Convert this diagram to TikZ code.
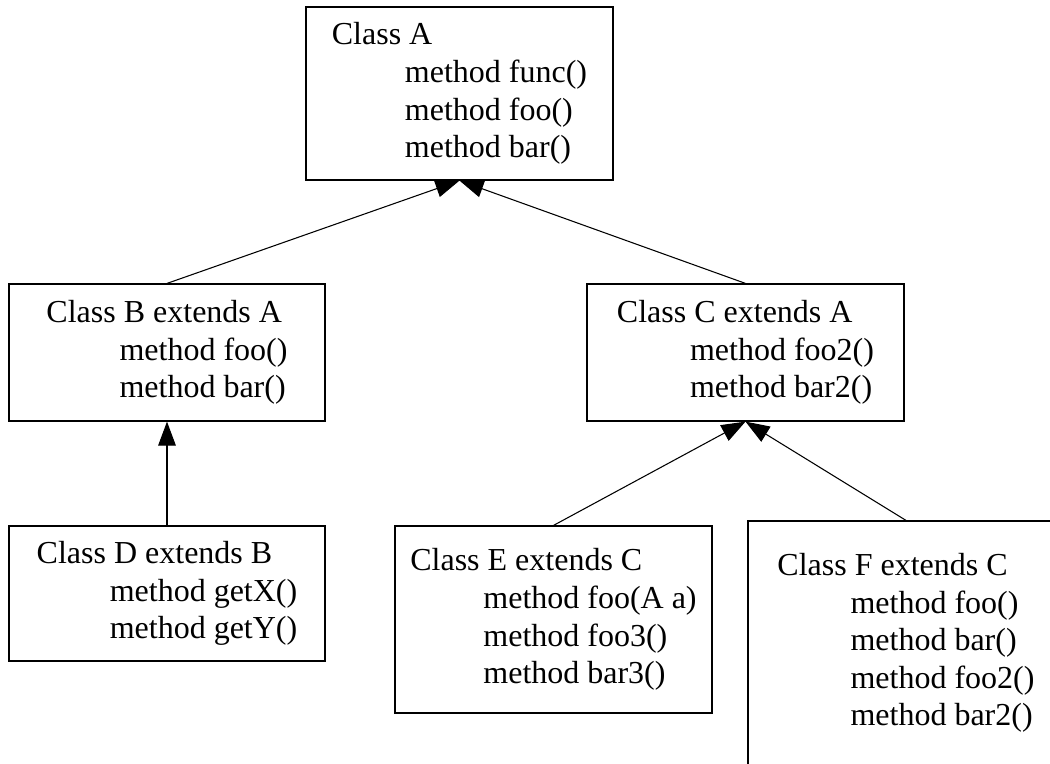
\documentclass[tikz,border=0pt]{standalone}
\usepackage{fontspec}
\setmainfont{Liberation Serif}
\usetikzlibrary{arrows.meta}
\newcommand{\mth}{\hspace*{27.4pt}method }

\begin{document}
\begin{tikzpicture}[
  x=0.375pt, y=-0.375pt,
  cls/.style={rectangle, draw=black, align=left, font=\fontsize{12}{14.1}\selectfont, line width=0.45pt, inner sep=0pt},
  arr/.style={-{Triangle[length=9pt,width=6.6pt]}, line width=0.4pt}
]
\useasboundingbox (0,0) rectangle (1050,763);
\clip (0,0) rectangle (1050,763);

\node[cls, minimum width=307*0.375pt, minimum height=173*0.375pt] (cA) at (459.5,93.5)
  {\rule{0pt}{8pt}Class A\\ \mth func()\\ \mth foo()\\ \mth bar()};
\node[cls, minimum width=316*0.375pt, minimum height=137*0.375pt] (cB) at (167,352.5)
  {Class B extends A\\ \mth foo()\\ \mth bar()};
\node[cls, minimum width=317*0.375pt, minimum height=137*0.375pt] (cC) at (745.5,352.5)
  {Class C extends A\\ \mth foo2()\\ \mth bar2()};
\node[cls, minimum width=316*0.375pt, minimum height=135*0.375pt] (cD) at (167,593.5)
  {Class D extends B\\ \mth getX()\\ \mth getY()};
\node[cls, minimum width=317*0.375pt, minimum height=187*0.375pt] (cE) at (553.5,619.5)
  {Class E extends C\\ \mth foo(A a)\\ \mth foo3()\\ \mth bar3()};
\node[cls, minimum width=316*0.375pt, minimum height=244*0.375pt] (cF) at (906,643)
  {Class F extends C\\ \mth foo()\\ \mth bar()\\ \mth foo2()\\ \mth bar2()};

\draw[arr] (cB.north) -- (cA.south);
\draw[arr] (cC.north) -- (cA.south);
\draw[arr] (cD.north) -- (cB.south);
\draw[arr] (cE.north) -- (cC.south);
\draw[arr] (cF.north) -- (cC.south);
\end{tikzpicture}
\end{document}
